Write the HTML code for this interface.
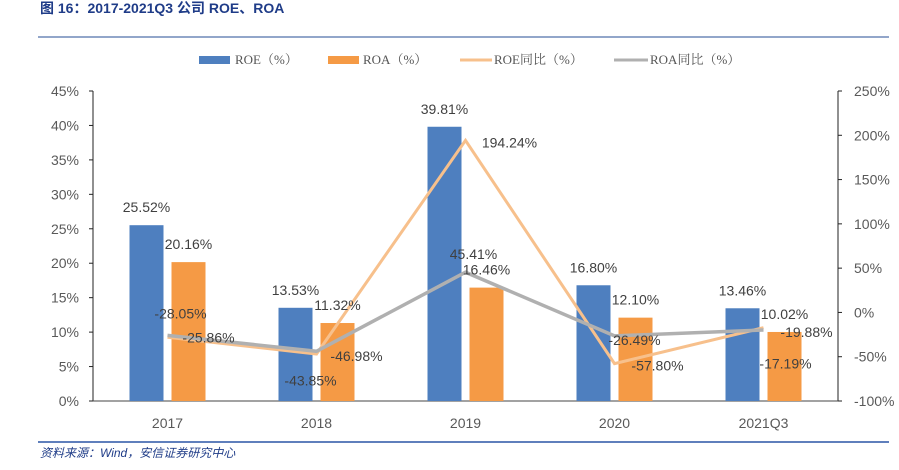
<!DOCTYPE html>
<html><head><meta charset="utf-8">
<style>
body{margin:0;background:#fff;width:899px;height:470px;overflow:hidden;font-family:"Liberation Sans","Noto Sans CJK SC",sans-serif;}
svg{display:block}
</style></head>
<body>
<svg id="chart" width="899" height="470" xmlns="http://www.w3.org/2000/svg">
<text x="40" y="13" font-size="14" font-weight="bold" fill="#1f3c88" font-family="Liberation Sans,Noto Sans CJK SC,sans-serif">图 16：2017-2021Q3 公司 ROE、ROA</text>
<line x1="38" y1="37" x2="889" y2="37" stroke="#6f89b8" stroke-width="1.5"/>
<line x1="38" y1="442" x2="889" y2="442" stroke="#2a55a5" stroke-width="1.5"/>
<text x="40" y="457" font-size="12" font-style="italic" fill="#1f3c88" font-family="Liberation Sans,Noto Sans CJK SC,sans-serif">资料来源：Wind，安信证券研究中心</text>
<g id="legend" font-size="13" fill="#555" font-family="Liberation Serif,Noto Serif CJK SC,serif">
<g><rect x="199" y="56" width="31" height="8" fill="#4e7fbf"/><text x="235" y="64">ROE（%）</text></g>
<g><rect x="328" y="56" width="31" height="8" fill="#f59a45"/><text x="363" y="64">ROA（%）</text></g>
<g><line x1="460" y1="60" x2="492" y2="60" stroke="#f7c08c" stroke-width="3"/><text x="494" y="64">ROE同比（%）</text></g>
<g><line x1="614" y1="60" x2="648" y2="60" stroke="#b0b0b0" stroke-width="3"/><text x="650" y="64">ROA同比（%）</text></g>
</g>
<g id="axes"></g>
<g id="bars"></g>
<g id="lines"></g>
<g id="labels"></g>
</svg>
<script>
const categories=["2017","2018","2019","2020","2021Q3"];
const roe=[25.52,13.53,39.81,16.80,13.46];
const roa=[20.16,11.32,16.46,12.10,10.02];
const roeYoy=[-28.05,-46.98,194.24,-57.80,-17.19];
const roaYoy=[-25.86,-43.85,45.41,-26.49,-19.88];
const leftTicks=[0,5,10,15,20,25,30,35,40,45];
const rightTicks=[-100,-50,0,50,100,150,200,250];

const NS="http://www.w3.org/2000/svg";
const X0=93,X1=838,YT=91,YB=401;
const band=(X1-X0)/categories.length;
const xc=i=>X0+band*(i+0.5);
const yL=v=>YB-(v/45)*(YB-YT);
const yR=v=>YB-((v+100)/350)*(YB-YT);
function mk(tag,attrs,parent){const e=document.createElementNS(NS,tag);for(const k in attrs)e.setAttribute(k,attrs[k]);parent.appendChild(e);return e;}
const axes=document.getElementById('axes'),bars=document.getElementById('bars'),lines=document.getElementById('lines'),labels=document.getElementById('labels');

let el=mk('line',{x1:X0,y1:YT,x2:X0,y2:YB,stroke:'#222'},axes);


el=mk('line',{x1:X1,y1:YT,x2:X1,y2:YB,stroke:'#222'},axes);


el=mk('line',{x1:X0,y1:YB,x2:X1,y2:YB,stroke:'#444'},axes);


leftTicks.forEach(t=>{
  mk('line',{x1:X0-4,y1:yL(t),x2:X0,y2:yL(t),stroke:'#222'},axes);
  const tx=mk('text',{x:X0-14,y:yL(t)+5,'text-anchor':'end','font-size':14,fill:'#595959'},axes);
  tx.textContent=t+'%';
  
  
});
rightTicks.forEach(t=>{
  mk('line',{x1:X1,y1:yR(t),x2:X1+4,y2:yR(t),stroke:'#222'},axes);
  const tx=mk('text',{x:X1+16,y:yR(t)+5,'font-size':14,fill:'#595959'},axes);
  tx.textContent=t+'%';
  
  
});
categories.forEach((c,i)=>{
  const tx=mk('text',{x:xc(i),y:428,'text-anchor':'middle','font-size':14,fill:'#595959'},axes);
  tx.textContent=c;
  
  
});

const BW=34;
function lbl(x,y,v,name){
  const t=mk('text',{x:x,y:y+5,'text-anchor':'middle','font-size':14,fill:'#404040'},labels);
  t.textContent=v.toFixed(2)+'%';
  
  
}
roe.forEach((v,i)=>{
  const r=mk('rect',{x:xc(i)-21-BW/2,y:yL(v),width:BW,height:YB-yL(v),fill:'#4e7fbf'},bars);
  
  
  lbl(xc(i)-21,yL(v)-18,v,'label-roe');
});
roa.forEach((v,i)=>{
  const r=mk('rect',{x:xc(i)+21-BW/2,y:yL(v),width:BW,height:YB-yL(v),fill:'#f59a45'},bars);
  
  
  lbl(xc(i)+21,yL(v)-18,v,'label-roa');
});
let p=mk('polyline',{points:roeYoy.map((v,i)=>xc(i)+','+yR(v)).join(' '),fill:'none',stroke:'#f7c08c','stroke-width':3},lines);


p=mk('polyline',{points:roaYoy.map((v,i)=>xc(i)+','+yR(v)).join(' '),fill:'none',stroke:'#b0b0b0','stroke-width':3.5},lines);


const roeOff=[[13,-24],[40,2],[44,2],[43,2],[22,36]];
const roaOff=[[41,2],[-6,29],[8,-18],[20,4],[43,2]];
roeYoy.forEach((v,i)=>lbl(xc(i)+roeOff[i][0],yR(v)+roeOff[i][1],v,'label-roe-yoy'));
roaYoy.forEach((v,i)=>lbl(xc(i)+roaOff[i][0],yR(v)+roaOff[i][1],v,'label-roa-yoy'));
</script>
</body></html>
